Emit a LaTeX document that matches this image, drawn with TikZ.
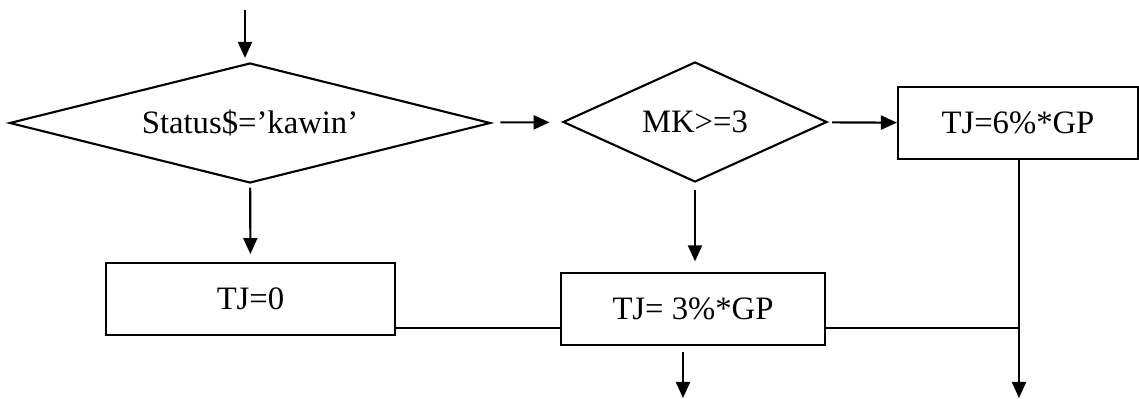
\documentclass[tikz,border=0pt]{standalone}
\usepackage{fontspec}
\setmainfont{Liberation Serif}
\usepackage{tikz}
\usetikzlibrary{arrows.meta, positioning, shapes.geometric, calc}

\begin{document}
\begin{tikzpicture}[>={Triangle[length=0.32cm, width=0.28cm]},
    font=\fontsize{18.6}{22}\selectfont,
    decision/.style={diamond, draw=black, line width=1.2pt, inner sep=0pt, aspect=4, minimum height=2.4cm},
    process/.style={rectangle, draw=black, line width=1.2pt, minimum height=1.44cm},
    arr/.style={->, line width=1.2pt},
    link/.style={-, line width=1.2pt}]
        \useasboundingbox (0,0) rectangle (22.78,-7.98);
        \node (status) [decision, minimum width=9.62cm] at (5.0,-2.46) {Status\$=’kawin’};
        \node (mk) [decision, minimum width=5.28cm] at (13.9,-2.44) {MK>=3};
        \node (six) [process, minimum width=4.8cm] at (20.36,-2.46) {TJ=6\%*GP};
        \node (zero) [process, minimum width=5.78cm] at (5.01,-5.98) {TJ=0};
        \node (three) [process, minimum width=5.28cm] at (13.86,-6.18) {TJ= 3\%*GP};
        \coordinate (start) at (4.9,-0.2);
        \coordinate (out2) at (13.66,-7.96);
        \coordinate (out3) at (20.38,-7.96);
        \coordinate (join) at (20.38,-6.56);
        \draw[arr, shorten >=2.3pt] (start) -- (start |- status.north);
        \draw[arr, shorten <=6.2pt, shorten >=7.4pt] (status) -- (mk);
        \draw[arr, shorten <=2.8pt] (mk) -- (six);
        \draw[arr, shorten <=2pt, shorten >=4.5pt] (status) -- (zero);
        \draw[arr, shorten <=4pt, shorten >=6pt] (mk.south) -- (mk.south |- three.north);
        \draw[arr] (six.south -| out3) -- (out3);
        \draw[link] (zero.east |- join) -- (three.west |- join);
        \draw[link] (three.east |- join) -- (join);
        \draw[arr, shorten <=3.4pt] (out2 |- three.south) -- (out2);
    \end{tikzpicture}
\end{document}
